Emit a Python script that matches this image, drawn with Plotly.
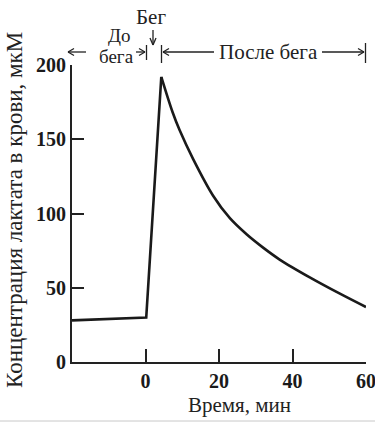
import plotly.graph_objects as go

# --- data ---
pre_t = [-20, 0, 0.2]
pre_v = [28, 30, 30]
run_t = [0.2, 4.3]
run_v = [30, 192]
post_t = [4.3, 7.4, 9.3, 12.9, 18.4, 22.9, 27.5, 32, 36.5, 44.7, 52.9, 60]
post_v = [192, 168, 156, 137, 112, 97, 86, 77, 69, 57, 46, 37]

x_ticks = [0, 20, 40, 60]
y_ticks = [0, 50, 100, 150, 200]

W, H = 375, 424
L, R, T, B = 72, 366, 65, 362
FONT = "Liberation Serif"


def px(x):
    return (x - L) / (R - L)


def py(y):
    return (B - y) / (B - T)


fig = go.Figure()
line = dict(color="#1a1a1a", width=2.6)
fig.add_trace(go.Scatter(x=pre_t + run_t[1:], y=pre_v + run_v[1:], mode="lines",
                         line=line, hoverinfo="skip", cliponaxis=False))
fig.add_trace(go.Scatter(x=post_t, y=post_v, mode="lines",
                         line=dict(line, shape="spline", smoothing=1.0),
                         hoverinfo="skip", cliponaxis=False))

shapes = []


def seg(x0, y0, x1, y1, w=1.3, color="#222"):
    shapes.append(dict(type="line", xref="paper", yref="paper",
                       x0=px(x0), y0=py(y0), x1=px(x1), y1=py(y1),
                       line=dict(color=color, width=w)))


def harrow(x_from, x_to, y):
    seg(x_from, y, x_to, y)
    d = 1 if x_to > x_from else -1
    seg(x_to, y, x_to - d * 6, y - 3.5)
    seg(x_to, y, x_to - d * 6, y + 3.5)


# До бега arrows
harrow(86, 68, 52)
harrow(136, 145, 52)
seg(146.5, 45, 146.5, 60)
# После бега arrows
seg(161.5, 45, 161.5, 63)
harrow(214, 163, 52)
harrow(322, 364, 52)
seg(365.5, 43, 365.5, 63)
# Бег down arrow
seg(153, 30, 153, 45)
seg(153, 45, 150, 38)
seg(153, 45, 156, 38)
# scan edge line at the bottom
shapes.append(dict(type="line", xref="paper", yref="paper",
                   x0=px(0), x1=px(W), y0=py(421), y1=py(421),
                   line=dict(color="#c8c8c8", width=1)))

ann_font = dict(family=FONT, size=21, color="#222")
annotations = [
    dict(text="Бег", x=px(151), y=py(17), xref="paper", yref="paper",
         showarrow=False, font=ann_font, xanchor="center", yanchor="middle"),
    dict(text="До", x=px(119), y=py(36), xref="paper", yref="paper",
         showarrow=False, font=dict(ann_font, size=19), xanchor="center", yanchor="middle"),
    dict(text="бега", x=px(116), y=py(57), xref="paper", yref="paper",
         showarrow=False, font=dict(ann_font, size=19), xanchor="center", yanchor="middle"),
    dict(text="После бега", x=px(268), y=py(52), xref="paper", yref="paper",
         showarrow=False, font=ann_font, xanchor="center", yanchor="middle"),
    dict(text="Время, мин", x=px(239), y=py(405), xref="paper", yref="paper",
         showarrow=False, font=dict(family=FONT, size=21, color="#222"),
         xanchor="center", yanchor="middle"),
    dict(text="Концентрация лактата в крови, мкМ", x=px(14), y=py(210),
         xref="paper", yref="paper", textangle=-90,
         showarrow=False, font=dict(family=FONT, size=23, color="#222"),
         xanchor="center", yanchor="middle"),
]

tickfont = dict(family=FONT, size=20, color="#1a1a1a", weight="bold")
fig.update_layout(
    width=W, height=H,
    margin=dict(l=L, r=W - R, t=T, b=H - B, autoexpand=False),
    paper_bgcolor="white", plot_bgcolor="white",
    showlegend=False,
    shapes=shapes, annotations=annotations,
    xaxis=dict(range=[-20, 60], tickvals=x_ticks, ticks="inside", ticklen=13,
               tickwidth=1.5, tickcolor="#222", showline=True, linecolor="#222",
               linewidth=2, showgrid=False, zeroline=False, tickfont=tickfont,
               automargin=False, ticklabeloverflow="allow"),
    yaxis=dict(range=[0, 200], tickvals=y_ticks, ticks="inside", ticklen=12,
               tickwidth=1.5, tickcolor="#222", showline=True, linecolor="#222",
               linewidth=2, showgrid=False, zeroline=False, tickfont=tickfont,
               automargin=False, ticklabeloverflow="allow"),
)

fig.write_html("out.html", config={"displayModeBar": False},
               post_script="document.body.style.margin='0';document.body.style.overflow='hidden';")
